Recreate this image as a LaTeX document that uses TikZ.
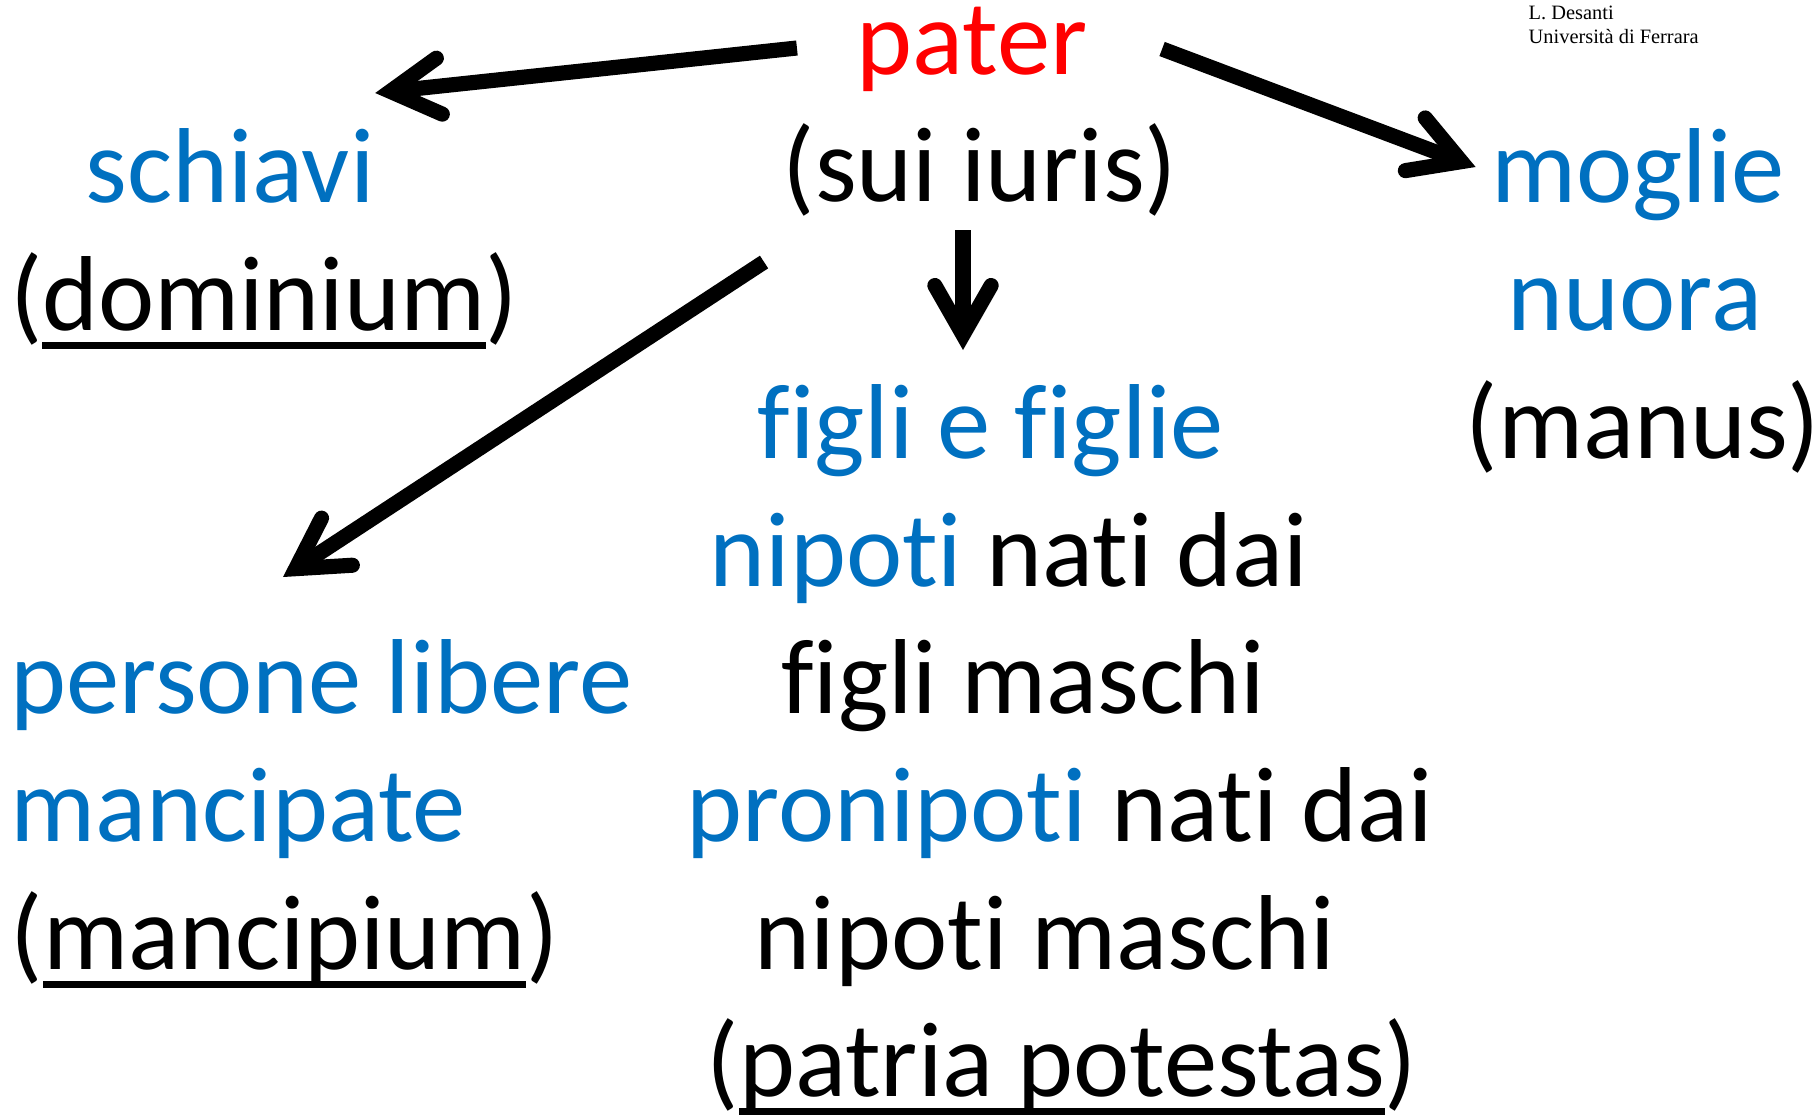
\documentclass[tikz,border=0pt]{standalone}
\usepackage{fontspec}
\setmainfont{Carlito}[Ligatures=NoCommon]
\newfontfamily\timesfont{Liberation Serif}
\usepackage{xcolor}
\usepackage{tikz}
\usetikzlibrary{calc,arrows.meta}
\definecolor{lawblue}{RGB}{0,112,192}
\newcommand\ulword[1]{\setbox0\hbox{#1}\rlap{\rule[-5.4pt]{\wd0}{2.1pt}}\box0}

\begin{document}
\begin{tikzpicture}[x=0.01cm,y=-0.01cm,
  txt/.style={inner sep=0pt,anchor=base,font=\fontsize{30.3}{36.3}\selectfont},
  lft/.style={txt,anchor=base west},
  sig/.style={inner sep=0pt,anchor=base west,font=\timesfont\fontsize{5.8}{6.8}\selectfont},
  arr/.style={line width=4.3pt,-{Straight Barb[length=14pt,width=16pt,line cap=round,line join=miter]}}]
  \def\W{1819} % width  (px units)
  \def\H{1118} % height
  \useasboundingbox (0,0) rectangle (\W,\H);

  % Signature
  \node[sig] (sig1) at (1528,19) {L. Desanti};
  \node[sig] (sig2) at (1528,43) {Università di Ferrara};

  % Pater
  \node[txt,red] (pater) at (972,74) {pater};
  \node[txt] (sui) at (980,201) {(sui iuris)};

  % Left: slaves
  \node[txt,lawblue] (schiavi) at (230,202) {schiavi};
  \node[txt] (dominium) at (264,330) {(\ulword{dominium})};

  % Right: wives
  \node[txt,lawblue] (moglie) at (1638,202) {moglie};
  \node[txt,lawblue] (nuora) at (1635,330) {nuora};
  \node[txt] (manus) at (1643,458) {(manus)};

  % Centre: descendants
  \node[txt,lawblue] (figli) at (991,458) {figli e figlie};
  \node[txt] (nipoti) at (1009,586) {\textcolor{lawblue}{nipoti} nati dai};
  \node[txt] (maschi) at (1023,713) {figli maschi};
  \node[txt] (pronipoti) at (1060,841) {\textcolor{lawblue}{pronipoti} nati dai};
  \node[txt] (nipmaschi) at (1045,969) {nipoti maschi};
  \node[txt] (potestas) at (1062,1096) {(\ulword{patria potestas})};

  % Left bottom: free persons
  \node[lft,lawblue] (persone) at (10,713) {persone libere};
  \node[lft,lawblue] (mancipate) at (10,841) {mancipate};
  \node[lft] (mancipium) at (10,969) {(\ulword{mancipium})};

  % Arrows
  \draw[arr] ($(pater.base west)+(-59,-26)$) -- ($(schiavi.base east)+(0,-109)$);
  \draw[arr] ($(pater.base east)+(74,-25)$) -- ($(moglie.base west)+(-15,-35)$);
  \draw[arr] ($(sui.base)+(-17,29)$) -- ($(figli.base)+(-28,-108)$);
  \draw[arr] ($(sui.base west)+(-18,61)$) -- ($(persone.base west)+(273,-136)$);
\end{tikzpicture}
\end{document}
